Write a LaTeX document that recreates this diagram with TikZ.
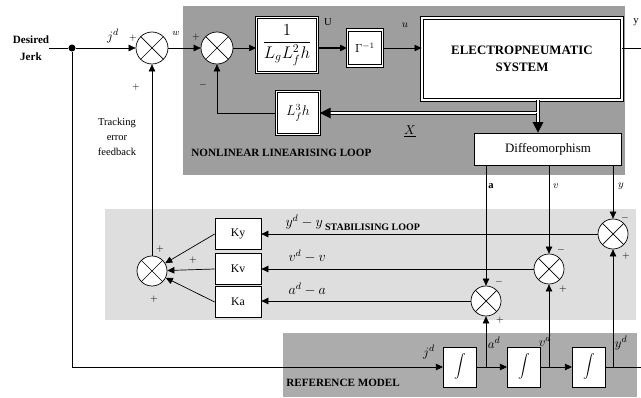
\documentclass[tikz,border=0pt]{standalone}
\usepackage{amsmath, amssymb}
\usepackage{fontspec}
\setmainfont{Liberation Serif}
\usetikzlibrary{arrows.meta}

\definecolor{loopgray}{RGB}{158,158,158}
\definecolor{stabgray}{RGB}{222,222,222}
\definecolor{refgray}{RGB}{172,172,172}

\begin{document}
\begin{tikzpicture}[x=0.03cm, y=-0.03cm, line width=0.6pt,
    >={Triangle[length=6pt, width=5.5pt]},
    sum node/.style={draw, circle, fill=white, minimum size=0.96cm, inner sep=0pt,
        path picture={\draw (path picture bounding box.north west) -- (path picture bounding box.south east)
            (path picture bounding box.south west) -- (path picture bounding box.north east);}},
    block node/.style={draw, fill=white, inner sep=1pt},
    double node/.style={draw, line width=0.8pt, double=white, double distance=1.5pt, fill=white, inner sep=1pt},
    gain node/.style={block node, minimum width=1.38cm, minimum height=0.92cm, font=\fontsize{10}{12}\selectfont},
    int node/.style={block node, minimum width=1.0cm, minimum height=1.2cm},
    sign node/.style={inner sep=0pt, font=\fontsize{8}{9}\selectfont},
    label node/.style={inner sep=1pt, font=\fontsize{11}{12}\selectfont},
    title node/.style={inner sep=0pt, font=\fontsize{9.5}{11}\selectfont\bfseries},
    bus/.style={draw, double, double distance=1.2pt, line width=0.7pt, -{Triangle[length=9pt, width=9pt]}}]

    \useasboundingbox (0,0) rectangle (641,398);

    \fill[loopgray] (183,6) rectangle (625,175);
    \fill[stabgray] (105,209) rectangle (636,320);
    \fill[refgray] (283,333) rectangle (637,397);

    \node[inner sep=0pt, align=center, font=\fontsize{9.5}{14}\selectfont\bfseries] (desired) at (31,48) {Desired\\Jerk};
    \node[circle, fill=black, inner sep=0pt, minimum size=6pt] (split) at (72,48) {};

    \node[sum node] (sumjerk) at (152,48) {};
    \node[sum node] (sumlin) at (217,48) {};
    \node[double node, minimum width=1.83cm, minimum height=1.65cm, font=\Large] (invdec) at (287,45) {$\dfrac{1}{L_gL_f^2h}$};
    \node[double node, minimum width=1.05cm, minimum height=1.08cm] (gaminv) at (365,48) {$\Gamma^{-1}$};
    \node[double node, minimum width=6.0cm, minimum height=2.46cm, align=center, font=\fontsize{11}{15}\selectfont\bfseries] (elec) at (522,59) {ELECTROPNEUMATIC\\SYSTEM};
    \node[double node, minimum width=1.29cm, minimum height=1.29cm, font=\large] (lf3h) at (298,113) {$L_f^3h$};
    \node[block node, minimum width=4.41cm, minimum height=0.96cm, font=\fontsize{11}{12}\selectfont] (diffeo) at (548,149) {Diffeomorphism};

    \node[gain node] (Ky) at (238,234) {Ky};
    \node[gain node] (Kv) at (238,269) {Kv};
    \node[gain node] (Ka) at (238,302) {Ka};

    \node[sum node, minimum size=0.9cm] (sumstab) at (152,271) {};
    \node[sum node, minimum size=0.9cm] (sumy) at (613,234) {};
    \node[sum node, minimum size=0.9cm] (sumv) at (549,269) {};
    \node[sum node, minimum size=0.9cm] (suma) at (486,301) {};

    \node[int node] (intone) at (460,367) {$\displaystyle\int$};
    \node[int node] (inttwo) at (524,367) {$\displaystyle\int$};
    \node[int node] (intthree) at (589,367) {$\displaystyle\int$};

    \coordinate (youtend) at (641,48);
    \coordinate (xsplit) at (538,113);
    \coordinate (refcorner) at (72,367);
    \coordinate (adbranch) at (486,367);
    \coordinate (vdbranch) at (549,367);
    \coordinate (ydbranch) at (613,367);
    \coordinate (ydend) at (641,367);

    \draw (desired.east) -- (split);
    \draw[->] (split) -- (sumjerk);
    \draw[->] (sumjerk) -- (sumlin);
    \draw[->] (sumlin) -- (sumlin -| invdec.west);
    \draw[->, line width=1.2pt] (sumlin -| invdec.east) -- (gaminv);
    \draw[->] (gaminv) -- (gaminv -| elec.west);
    \draw (youtend -| elec.east) -- (youtend);

    \draw[bus] (elec.south -| xsplit) -- (xsplit) -- (lf3h.east);
    \draw[bus] (xsplit) -- (diffeo.north -| xsplit);
    \draw[->] (lf3h.west) -| (sumlin.south);

    \draw[->] (split) -- (refcorner) -- (intone);
    \draw[->] (sumstab) -- (sumjerk);

    \draw[->] (Ky.west) -- (sumstab);
    \draw[->] (Kv.west) -- (sumstab);
    \draw[->] (Ka.west) -- (sumstab);

    \draw[->] (sumy) -- (sumy -| Ky.east);
    \draw[->] (sumv) -- (sumv -| Kv.east);
    \draw[->] (suma) -- (suma -| Ka.east);

    \draw[->] (diffeo.south -| suma) -- (suma);
    \draw[->] (diffeo.south -| sumv) -- (sumv);
    \draw[->] (diffeo.south -| sumy) -- (sumy);

    \draw[->] (intone) -- (inttwo);
    \draw[->] (inttwo) -- (intthree);
    \draw (intthree) -- (ydend);
    \draw[->] (adbranch) -- (suma);
    \draw[->] (vdbranch) -- (sumv);
    \draw[->] (ydbranch) -- (sumy);

    \node[label node] (jdin) at (113,36) {$j^d$};
    \node[sign node] (plusjerk) at (133,38) {$+$};
    \node[sign node] (plusfeed) at (136,87) {$+$};
    \node[label node, font=\fontsize{8}{9}\selectfont] (wlab) at (176,33) {$w$};
    \node[sign node] (pluslin) at (196,37) {$+$};
    \node[sign node] (minuslin) at (203,85) {$-$};
    \node[label node, font=\fontsize{9}{10}\selectfont] (ulab) at (328,22) {U};
    \node[label node, font=\fontsize{9}{10}\selectfont] (alab) at (405,25) {$u$};
    \node[label node, font=\fontsize{9}{10}\selectfont] (ylab) at (636,22) {y};
    \node[label node] (xlab) at (410,131) {$\underline{X}$};
    \node[title node, anchor=west] (nlltitle) at (191,153) {NONLINEAR LINEARISING LOOP};
    \node[inner sep=0pt, align=center, font=\fontsize{9}{13}\selectfont] (tracking) at (117,137) {Tracking\\error\\feedback};

    \node[label node, font=\fontsize{9}{10}\selectfont\bfseries] (alabd) at (491,186) {a};
    \node[label node, font=\fontsize{9}{10}\selectfont] (vlabd) at (556,186) {$v$};
    \node[label node, font=\fontsize{9}{10}\selectfont] (ylabd) at (621,186) {$y$};

    \node[sign node] (minusy) at (625,218) {$-$};
    \node[sign node] (plusy) at (626,256) {$+$};
    \node[sign node] (minusv) at (561,250) {$-$};
    \node[sign node] (plusv) at (563,289) {$+$};
    \node[sign node] (minusa) at (499,282) {$-$};
    \node[sign node] (plusa) at (500,320) {$+$};

    \node[sign node] (plusky) at (160,249) {$+$};
    \node[sign node] (pluskv) at (193,260) {$+$};
    \node[sign node] (pluska) at (154,299) {$+$};

    \node[label node, anchor=west, font=\large] (eylab) at (284,223) {$y^d - y$\,\raisebox{-3pt}{\fontsize{8.5}{10}\selectfont\bfseries STABILISING LOOP}};
    \node[label node, anchor=west, font=\large] (evlab) at (287,256) {$v^d - v$};
    \node[label node, anchor=west, font=\large] (ealab) at (287,289) {$a^d - a$};

    \node[label node] (jdlab) at (429,352) {$j^d$};
    \node[label node] (adlab) at (494,343) {$a^d$};
    \node[label node] (vdlab) at (545,341) {$v^d$};
    \node[label node] (ydlab) at (621,343) {$y^d$};
    \node[title node, anchor=west] (reftitle) at (286,383) {REFERENCE MODEL};
\end{tikzpicture}
\end{document}
